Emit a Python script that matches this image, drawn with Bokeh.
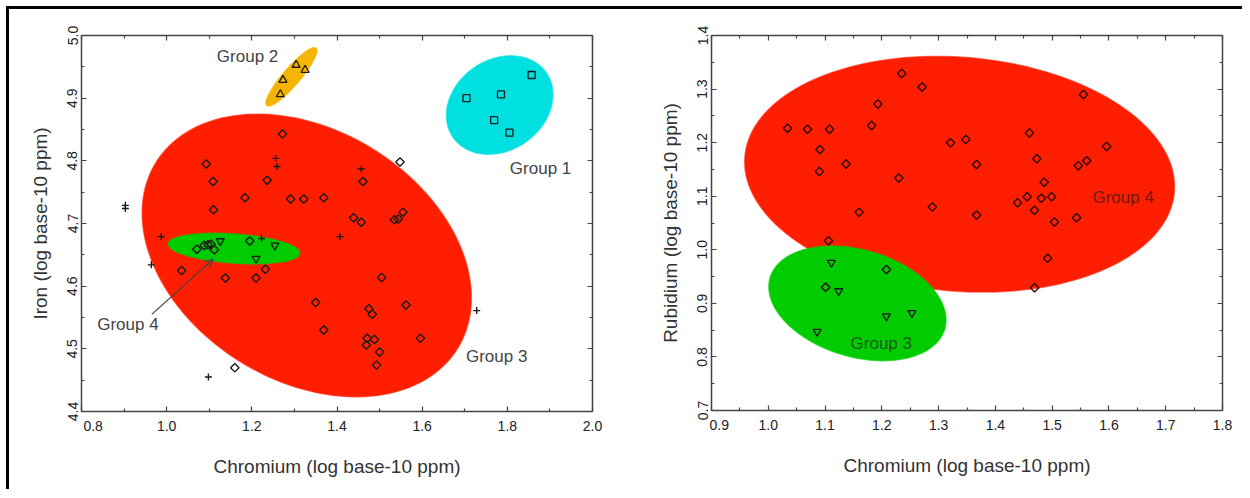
import numpy as np
from bokeh.plotting import figure
from bokeh.models import (LinearAxis, Arrow, OpenHead, FixedTicker, Row,
                          ColumnDataSource, Range1d, NumeralTickFormatter)
from bokeh.core.properties import value
from bokeh.embed import file_html
from bokeh.resources import INLINE

FONT = "Liberation Sans"

# ---------------- Left panel: Iron vs Chromium ----------------
L_diamond_x = [1.272, 1.093, 1.109, 1.236, 1.184, 1.291, 1.322, 1.369, 1.110, 1.461,
               1.548, 1.439, 1.457, 1.535, 1.544, 1.555, 1.071, 1.088, 1.097, 1.104,
               1.112, 1.195, 1.035, 1.138, 1.210, 1.232, 1.505, 1.350, 1.562, 1.475,
               1.483, 1.369, 1.471, 1.488, 1.469, 1.500, 1.493, 1.596, 1.160]
L_diamond_y = [4.843, 4.795, 4.767, 4.769, 4.741, 4.739, 4.739, 4.741, 4.722, 4.767,
               4.798, 4.709, 4.702, 4.706, 4.707, 4.718, 4.659, 4.665, 4.666, 4.667,
               4.658, 4.672, 4.625, 4.613, 4.613, 4.627, 4.614, 4.574, 4.570, 4.564,
               4.555, 4.530, 4.517, 4.515, 4.506, 4.495, 4.474, 4.517, 4.470]
L_tri_down_x = [1.126, 1.254, 1.210]
L_tri_down_y = [4.672, 4.665, 4.644]
L_tri_up_x = [1.304, 1.325, 1.273, 1.267]
L_tri_up_y = [4.953, 4.945, 4.929, 4.906]
L_square_x = [1.704, 1.785, 1.857, 1.769, 1.805]
L_square_y = [4.900, 4.906, 4.937, 4.865, 4.845]
L_cross_x = [1.256, 1.259, 1.457, 0.903, 0.903, 0.987, 1.223, 1.407, 0.964, 1.098, 1.728]
L_cross_y = [4.804, 4.791, 4.787, 4.729, 4.724, 4.679, 4.676, 4.679, 4.634, 4.455, 4.561]

# group ellipses: centre, half-width, half-height, x-offset of top point
L_ell_name = ["Group 3", "Group 4", "Group 2", "Group 1"]
L_ell_cx = [1.329, 1.158, 1.293, 1.782]
L_ell_cy = [4.649, 4.660, 4.934, 4.889]
L_ell_hx = [0.3865, 0.1545, 0.060, 0.125]
L_ell_hy = [0.2255, 0.0245, 0.0467, 0.0786]
L_ell_dx = [-0.116, -0.045, 0.054, 0.026]
L_ell_color = ["#ff1e00", "#00cc00", "#f5b400", "#00e0e0"]

L_label_text = ["Group 2", "Group 1", "Group 3", "Group 4"]
L_label_x = [1.190, 1.878, 1.775, 0.909]
L_label_y = [4.967, 4.787, 4.488, 4.539]

L_arrow_x0 = [0.965]
L_arrow_y0 = [4.555]
L_arrow_x1 = [1.109]
L_arrow_y1 = [4.643]

L_xticks = [0.8, 1.0, 1.2, 1.4, 1.6, 1.8, 2.0]
L_xminor = [0.9, 1.1, 1.3, 1.5, 1.7, 1.9]
L_yticks = [4.4, 4.5, 4.6, 4.7, 4.8, 4.9, 5.0]
L_yminor = [4.45, 4.55, 4.65, 4.75, 4.85, 4.95]

# ---------------- Right panel: Rubidium vs Chromium ----------------
R_diamond_x = [1.034, 1.069, 1.108, 1.091, 1.090, 1.137, 1.160, 1.106, 1.182, 1.193,
               1.235, 1.271, 1.230, 1.289, 1.321, 1.348, 1.367, 1.367, 1.460, 1.473,
               1.486, 1.456, 1.481, 1.499, 1.439, 1.469, 1.504, 1.543, 1.546, 1.561,
               1.555, 1.596, 1.492, 1.469, 1.101, 1.208]
R_diamond_y = [1.227, 1.225, 1.225, 1.187, 1.146, 1.160, 1.070, 1.017, 1.232, 1.272,
               1.329, 1.304, 1.134, 1.080, 1.200, 1.206, 1.159, 1.065, 1.218, 1.170,
               1.126, 1.099, 1.096, 1.099, 1.088, 1.074, 1.052, 1.060, 1.157, 1.166,
               1.290, 1.193, 0.984, 0.929, 0.930, 0.963]
R_tri_down_x = [1.111, 1.124, 1.086, 1.208, 1.253]
R_tri_down_y = [0.976, 0.923, 0.847, 0.876, 0.882]

R_ell_name = ["Group 4", "Group 3"]
R_ell_cx = [1.337, 1.157]
R_ell_cy = [1.141, 0.900]
R_ell_hx = [0.3785, 0.156]
R_ell_hy = [0.220, 0.107]
R_ell_dx = [-0.040, -0.045]
R_ell_color = ["#ff1e00", "#00cc00"]

R_label_text = ["Group 4", "Group 3"]
R_label_x = [1.625, 1.199]
R_label_y = [1.097, 0.826]
R_label_color = ["#6e1a08", "#1d5a1d"]

R_xticks = [0.9, 1.0, 1.1, 1.2, 1.3, 1.4, 1.5, 1.6, 1.7, 1.8]
R_xminor = [0.95, 1.05, 1.15, 1.25, 1.35, 1.45, 1.55, 1.65, 1.75]
R_yticks = [0.7, 0.8, 0.9, 1.0, 1.1, 1.2, 1.3, 1.4]
R_yminor = [0.75, 0.85, 0.95, 1.05, 1.15, 1.25, 1.35]

NBSP = "\u00a0"


def ellipse_patches(cx, cy, hx, hy, dx):
    t = np.linspace(0, 2 * np.pi, 160)
    xs, ys = [], []
    for a, b, w, h, d in zip(cx, cy, hx, hy, dx):
        v = np.sqrt(max(w * w - d * d, 1e-9))
        xs.append(list(a + d * np.cos(t) + v * np.sin(t)))
        ys.append(list(b + h * np.cos(t)))
    return xs, ys


def tick_style(ax):
    ax.axis_line_color = None
    ax.major_tick_in = 5
    ax.major_tick_out = 0
    ax.minor_tick_in = 3
    ax.minor_tick_out = 0
    ax.major_tick_line_color = "#444444"
    ax.minor_tick_line_color = "#444444"
    ax.major_tick_line_width = 1.2
    ax.minor_tick_line_width = 1.2


def style_axes(p, xt, xm, yt, ym, xlabel, ylabel, first_pad):
    p.xaxis.ticker = FixedTicker(ticks=xt, minor_ticks=xm)
    p.yaxis.ticker = FixedTicker(ticks=yt, minor_ticks=ym)
    for ax in (p.xaxis[0], p.yaxis[0]):
        tick_style(ax)
        ax.formatter = NumeralTickFormatter(format="0.0")
        ax.major_label_text_font = FONT
        ax.major_label_text_font_size = "14px"
        ax.major_label_text_color = "#222222"
        ax.axis_label_text_font = FONT
        ax.axis_label_text_font_size = "19px"
        ax.axis_label_text_font_style = "normal"
        ax.axis_label_text_color = "#333333"
    # first x label sits right of the corner (as in the original)
    p.xaxis.major_label_overrides = {xt[0]: NBSP * first_pad + "%.1f" % xt[0]}
    p.xaxis.axis_label = xlabel
    p.yaxis.axis_label = ylabel
    p.xaxis.major_label_standoff = 6
    p.xaxis.axis_label_standoff = 19
    p.yaxis.major_label_standoff = 4
    p.yaxis.axis_label_standoff = 14
    p.yaxis.major_label_orientation = "parallel"
    # mirrored ticks on top and right (no labels drawn)
    top = LinearAxis(ticker=FixedTicker(ticks=xt, minor_ticks=xm))
    right = LinearAxis(ticker=FixedTicker(ticks=yt, minor_ticks=ym))
    for ax in (top, right):
        tick_style(ax)
        ax.major_label_text_color = None
        ax.major_label_text_font_size = "1px"
        ax.major_label_standoff = 0
    p.add_layout(top, "above")
    p.add_layout(right, "right")
    p.grid.visible = False
    p.outline_line_color = "#444444"
    p.outline_line_width = 1.5


def make_fig(xr, yr, fh, bl, bt, br, bb):
    p = figure(frame_width=511, frame_height=fh, x_range=Range1d(*xr), y_range=Range1d(*yr),
               output_backend="svg", toolbar_location=None,
               min_border_left=bl, min_border_top=bt, min_border_right=br, min_border_bottom=bb)
    p.background_fill_color = "white"
    p.border_fill_color = "white"
    return p


# ---------- left figure ----------
p1 = make_fig((0.8, 2.0), (4.4, 5.0), 376, 72, 23, 20, 81)
xs, ys = ellipse_patches(L_ell_cx, L_ell_cy, L_ell_hx, L_ell_hy, L_ell_dx)
p1.patches(xs, ys, fill_color=L_ell_color, line_color=L_ell_color, line_alpha=0.6, line_width=1.5)

p1.scatter(L_diamond_x, L_diamond_y, marker="square", angle=np.pi / 4, size=6, fill_color=None,
           line_color="#1a1a1a", line_width=1.4)
p1.scatter(L_tri_down_x, L_tri_down_y, marker="inverted_triangle", size=8, fill_color=None,
           line_color="#1a1a1a", line_width=1.3)
p1.scatter(L_tri_up_x, L_tri_up_y, marker="triangle", size=8, fill_color=None,
           line_color="#1a1a1a", line_width=1.3)
p1.scatter(L_square_x, L_square_y, marker="square", size=7, fill_color=None,
           line_color="#1a1a1a", line_width=1.3)
p1.scatter(L_cross_x, L_cross_y, marker="cross", size=7, line_color="#1a1a1a", line_width=1.4)

arrow_src = ColumnDataSource(dict(x0=L_arrow_x0, y0=L_arrow_y0, x1=L_arrow_x1, y1=L_arrow_y1))
p1.add_layout(Arrow(end=OpenHead(size=8, line_color="#444444", line_width=1.2),
                    x_start="x0", y_start="y0", x_end="x1", y_end="y1", source=arrow_src,
                    line_color="#444444", line_width=1.2))
p1.text(L_label_x, L_label_y, text=L_label_text, text_align="center", text_baseline="middle",
        text_font=value(FONT), text_font_size="17px", text_color="#444444")
style_axes(p1, L_xticks, L_xminor, L_yticks, L_yminor,
           "Chromium (log base-10 ppm)", "Iron (log base-10 ppm)", 6)

# ---------- right figure ----------
p2 = make_fig((0.9, 1.8), (0.7, 1.4), 375, 99, 26, 20, 79)
xs, ys = ellipse_patches(R_ell_cx, R_ell_cy, R_ell_hx, R_ell_hy, R_ell_dx)
p2.patches(xs, ys, fill_color=R_ell_color, line_color=R_ell_color, line_alpha=0.6, line_width=1.5)
p2.text(R_label_x, R_label_y, text=R_label_text, text_align="center", text_baseline="middle",
        text_font=value(FONT), text_font_size="17px", text_color=R_label_color)
p2.scatter(R_diamond_x, R_diamond_y, marker="square", angle=np.pi / 4, size=6, fill_color=None,
           line_color="#2a0a00", line_width=1.4)
p2.scatter(R_tri_down_x, R_tri_down_y, marker="inverted_triangle", size=8, fill_color=None,
           line_color="#1a1a1a", line_width=1.3)
style_axes(p2, R_xticks, R_xminor, R_yticks, R_yminor,
           "Chromium (log base-10 ppm)", "Rubidium (log base-10 ppm)", 4)

layout = Row(children=[p1, p2],
             styles={"margin-top": "6px", "margin-left": "6px",
                     "border-top": "3px solid #000000", "border-left": "3px solid #000000"})

open("out.html", "w").write(file_html(layout, INLINE))
